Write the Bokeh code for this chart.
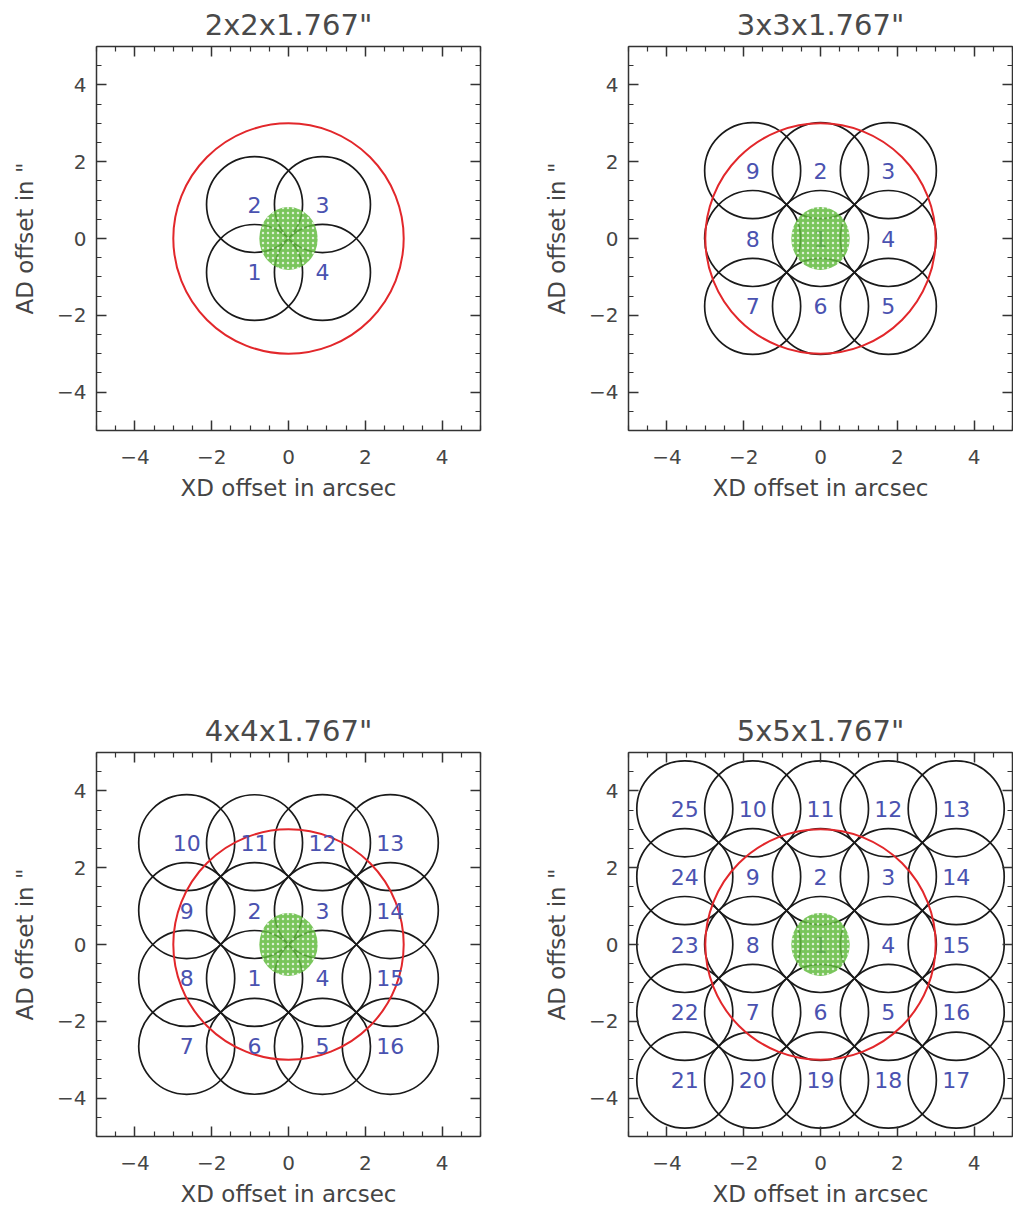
from bokeh.plotting import figure
from bokeh.models import Range1d, FixedTicker, LinearAxis, ColumnDataSource
from bokeh.layouts import column, row
from bokeh.embed import file_html
from bokeh.resources import INLINE
from bokeh.core.properties import value

# ---------------- data ----------------
titles = ['2x2x1.767"', '3x3x1.767"', '4x4x1.767"', '5x5x1.767"']
x_label = "XD offset in arcsec"
y_label = 'AD offset in "'

major_ticks = [-4, -2, 0, 2, 4]
minor_ticks = [-5, -4.5, -3.5, -3, -2.5, -1.5, -1, -0.5, 0.5, 1, 1.5, 2.5, 3, 3.5, 4.5, 5]
tick_labels = {-4: "\u22124", -2: "\u22122", 0: "0", 2: "2", 4: "4"}

beam_radius = 1.25      # arcsec
slit_radius = 3.0       # red circle
source_width = 1.52     # green source cloud, XD extent
source_height = 1.64    # green source cloud, AD extent

# 2x2 pattern
g2_x = [-0.884, -0.884, 0.884, 0.884]
g2_y = [-0.884, 0.884, 0.884, -0.884]
g2_lab = ["1", "2", "3", "4"]

# 3x3 pattern
g3_x = [0, 0, 1.767, 1.767, 1.767, 0, -1.767, -1.767, -1.767]
g3_y = [0, 1.767, 1.767, 0, -1.767, -1.767, -1.767, 0, 1.767]
g3_lab = ["1", "2", "3", "4", "5", "6", "7", "8", "9"]

# 4x4 pattern
g4_x = [-0.884, -0.884, 0.884, 0.884, 0.884, -0.884, -2.651, -2.651,
        -2.651, -2.651, -0.884, 0.884, 2.651, 2.651, 2.651, 2.651]
g4_y = [-0.884, 0.884, 0.884, -0.884, -2.651, -2.651, -2.651, -0.884,
        0.884, 2.651, 2.651, 2.651, 2.651, 0.884, -0.884, -2.651]
g4_lab = ["1", "2", "3", "4", "5", "6", "7", "8",
          "9", "10", "11", "12", "13", "14", "15", "16"]

# 5x5 pattern
g5_x = [0, 0, 1.767, 1.767, 1.767, 0, -1.767, -1.767, -1.767,
        -1.767, 0, 1.767, 3.534, 3.534, 3.534, 3.534, 3.534,
        1.767, 0, -1.767, -3.534, -3.534, -3.534, -3.534, -3.534]
g5_y = [0, 1.767, 1.767, 0, -1.767, -1.767, -1.767, 0, 1.767,
        3.534, 3.534, 3.534, 3.534, 1.767, 0, -1.767, -3.534,
        -3.534, -3.534, -3.534, -3.534, -1.767, 0, 1.767, 3.534]
g5_lab = ["1", "2", "3", "4", "5", "6", "7", "8", "9", "10", "11", "12", "13",
          "14", "15", "16", "17", "18", "19", "20", "21", "22", "23", "24", "25"]

# ---------------- style ----------------
FONT = "DejaVu Sans"
TXT = "#454545"
AX = "#333333"
FW = 384
FH = 384


def style_axis(ax, show_labels):
    ax.ticker = FixedTicker(ticks=major_ticks, minor_ticks=minor_ticks)
    ax.major_tick_in = 10
    ax.major_tick_out = 0
    ax.minor_tick_in = 5
    ax.minor_tick_out = 0
    ax.axis_line_color = AX
    ax.axis_line_width = 1.5
    ax.major_tick_line_color = AX
    ax.major_tick_line_width = 1.5
    ax.minor_tick_line_color = AX
    ax.minor_tick_line_width = 1.2
    if show_labels:
        ax.major_label_overrides = tick_labels
        ax.major_label_text_font = FONT
        ax.major_label_text_font_size = "20px"
        ax.major_label_text_color = TXT
        ax.axis_label_text_font = FONT
        ax.axis_label_text_font_size = "23px"
        ax.axis_label_text_font_style = "normal"
        ax.axis_label_text_color = TXT
    else:
        ax.major_label_overrides = {t: "" for t in major_ticks}
        ax.major_label_standoff = 0


def make_panel(title, xs, ys, labs, top_row, right_col):
    p = figure(
        frame_width=FW, frame_height=FH,
        x_range=Range1d(-5, 5), y_range=Range1d(-5, 5),
        output_backend="svg", toolbar_location=None,
        title=title,
        min_border_left=88 if right_col else 96,
        min_border_right=1 if right_col else 60,
        min_border_top=0,
        min_border_bottom=276 if top_row else 10,
    )
    p.title.text_font = FONT
    p.title.text_font_size = "29px"
    p.title.text_font_style = "normal"
    p.title.text_color = "#4a4a4a"
    p.title.align = "center"
    p.title.standoff = 10
    p.grid.visible = False
    p.outline_line_color = None
    p.background_fill_color = "white"
    p.border_fill_color = "white"

    p.xaxis.axis_label = x_label
    p.yaxis.axis_label = y_label
    for ax in p.xaxis:
        style_axis(ax, True)
        ax.major_label_standoff = 19
        ax.axis_label_standoff = 8
    for ax in p.yaxis:
        style_axis(ax, True)
        ax.major_label_standoff = 10
        ax.axis_label_standoff = 16
    top = LinearAxis()
    style_axis(top, False)
    right = LinearAxis()
    style_axis(right, False)
    p.add_layout(top, "above")
    p.add_layout(right, "right")

    src = ColumnDataSource(dict(x=xs, y=ys, lab=labs))
    p.circle(x="x", y="y", radius=beam_radius, source=src,
             fill_color=None, line_color="#1a1a1a", line_width=1.7)
    p.circle(x=[0], y=[0], radius=slit_radius,
             fill_color=None, line_color="#e2272b", line_width=2)
    p.text(x="x", y="y", text="lab", source=src,
           text_font=value(FONT), text_font_size="22px",
           text_color="#4a52b0", text_align="center",
           text_baseline="alphabetic")
    p.ellipse(x=[0], y=[0], width=source_width, height=source_height,
              fill_color="#62bb3e", fill_alpha=0.85, line_color=None,
              hatch_pattern="dot", hatch_color="white", hatch_scale=5,
              hatch_weight=1, hatch_alpha=0.75)
    return p


p1 = make_panel(titles[0], g2_x, g2_y, g2_lab, True, False)
p2 = make_panel(titles[1], g3_x, g3_y, g3_lab, True, True)
p3 = make_panel(titles[2], g4_x, g4_y, g4_lab, False, False)
p4 = make_panel(titles[3], g5_x, g5_y, g5_lab, False, True)

layout = column(row(p1, p2), row(p3, p4))

open("out.html", "w").write(file_html(layout, INLINE))
